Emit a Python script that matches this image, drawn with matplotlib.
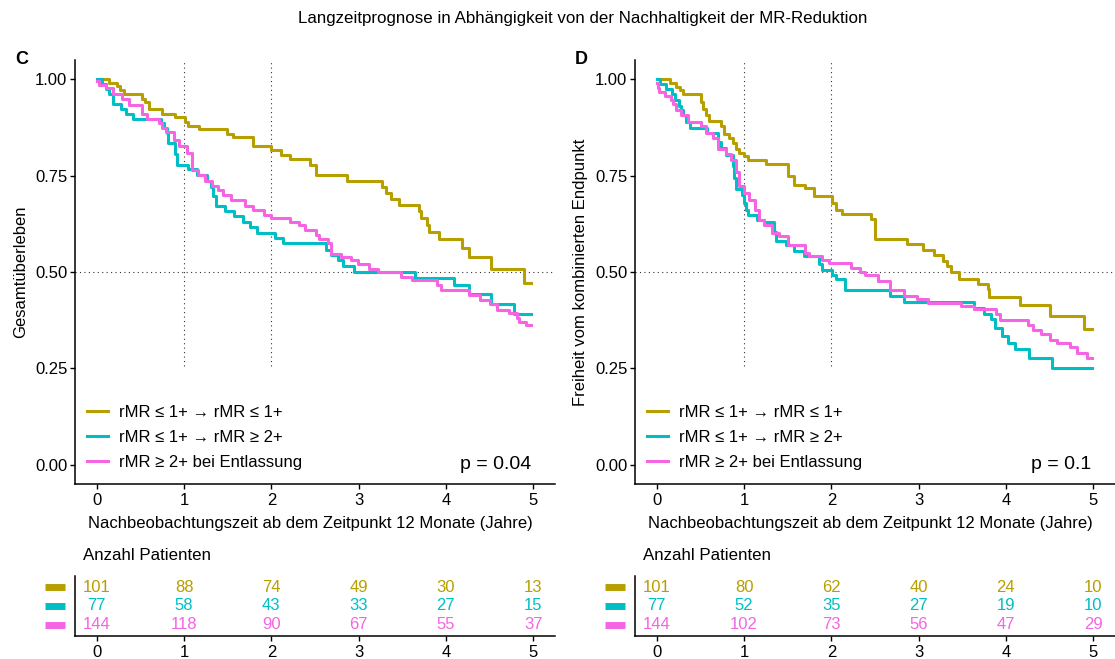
import matplotlib
matplotlib.use("Agg")
import matplotlib.pyplot as plt
import matplotlib.transforms as mtransforms

plt.rcParams['font.family'] = ['Liberation Sans', 'DejaVu Sans']

# =========================
# DATA
# =========================
GROUPS = ["rMR ≤ 1+ → rMR ≤ 1+", "rMR ≤ 1+ → rMR ≥ 2+", "rMR ≥ 2+ bei Entlassung"]
COLORS = ["#B79F00", "#00BFC4", "#F564E3"]
TABLE_TIMES = [0, 1, 2, 3, 4, 5]

# panel C - Gesamtüberleben (step curves: time in years, survival)
c_gold_t = [0, 0.14, 0.235, 0.26, 0.31, 0.52, 0.55, 0.6, 0.75, 0.90, 1.01, 1.05, 1.17, 1.49, 1.56, 1.79,
            2.0, 2.11, 2.21, 2.44, 2.51, 2.87, 3.27, 3.31, 3.37, 3.46, 3.69, 3.72, 3.78, 3.81, 3.92, 4.18,
            4.26, 4.52, 4.89, 4.98]
c_gold_s = [1.0, 0.99, 0.982, 0.972, 0.963, 0.95, 0.941, 0.922, 0.911, 0.901, 0.89, 0.879, 0.870, 0.858, 0.849, 0.827,
            0.817, 0.804, 0.793, 0.778, 0.752, 0.736, 0.72, 0.706, 0.689, 0.674, 0.657, 0.640, 0.622, 0.605, 0.586, 0.563,
            0.539, 0.509, 0.472, 0.472]
c_cyan_t = [0, 0.06, 0.1, 0.14, 0.18, 0.19, 0.28, 0.33, 0.41, 0.74, 0.77, 0.80, 0.82, 0.90, 0.92, 1.05, 1.15,
            1.26, 1.31, 1.33, 1.36, 1.47, 1.57, 1.67, 1.76, 1.84, 2.04, 2.13, 2.63, 2.68, 2.76, 2.82, 2.95,
            3.65, 4.09, 4.27, 4.52, 4.78, 4.98]
c_cyan_s = [1.0, 0.987, 0.975, 0.963, 0.950, 0.937, 0.924, 0.911, 0.898, 0.887, 0.873, 0.86, 0.834, 0.806, 0.778, 0.767, 0.752,
            0.735, 0.72, 0.696, 0.670, 0.657, 0.644, 0.629, 0.616, 0.601, 0.588, 0.575, 0.558, 0.543, 0.530, 0.515, 0.50,
            0.485, 0.465, 0.442, 0.416, 0.390, 0.390]
c_mag_t = [0, 0.03, 0.1, 0.18, 0.29, 0.37, 0.52, 0.58, 0.71, 0.75, 0.79, 0.88, 0.94, 1.03, 1.09, 1.16, 1.24,
           1.32, 1.39, 1.45, 1.54, 1.70, 1.79, 1.91, 2.0, 2.21, 2.32, 2.38, 2.51, 2.55, 2.65, 2.68, 2.80,
           2.91, 2.99, 3.12, 3.22, 3.48, 3.61, 3.90, 3.94, 4.26, 4.39, 4.51, 4.58, 4.72, 4.81, 4.84, 4.92, 4.98]
c_mag_s = [0.995, 0.985, 0.977, 0.963, 0.95, 0.933, 0.91, 0.898, 0.887, 0.873, 0.864, 0.842, 0.827, 0.809, 0.765, 0.752, 0.737,
           0.722, 0.712, 0.700, 0.687, 0.672, 0.661, 0.649, 0.640, 0.631, 0.623, 0.61, 0.597, 0.586, 0.574, 0.547, 0.538,
           0.531, 0.522, 0.509, 0.50, 0.488, 0.478, 0.465, 0.453, 0.44, 0.427, 0.416, 0.401, 0.393, 0.38, 0.370, 0.362, 0.362]

# panel D - Freiheit vom kombinierten Endpunkt
d_gold_t = [0, 0.15, 0.224, 0.262, 0.30, 0.51, 0.53, 0.566, 0.60, 0.74, 0.774, 0.83, 0.87, 0.907, 0.945, 1.0,
            1.04, 1.25, 1.50, 1.57, 1.70, 1.80, 2.01, 2.05, 2.12, 2.45, 2.50, 2.87, 3.05, 3.18, 3.28, 3.32,
            3.37, 3.46, 3.68, 3.79, 3.81, 4.16, 4.51, 4.89, 4.99]
d_gold_s = [1.0, 0.99, 0.98, 0.972, 0.961, 0.941, 0.922, 0.907, 0.891, 0.88, 0.858, 0.848, 0.834, 0.82, 0.81, 0.80,
            0.791, 0.78, 0.748, 0.726, 0.718, 0.696, 0.68, 0.661, 0.650, 0.637, 0.586, 0.573, 0.558, 0.543, 0.528, 0.515,
            0.50, 0.483, 0.468, 0.455, 0.436, 0.415, 0.386, 0.351, 0.351]
d_cyan_t = [0, 0.04, 0.11, 0.17, 0.205, 0.255, 0.28, 0.30, 0.34, 0.375, 0.57, 0.70, 0.74, 0.79, 0.87, 0.89,
            0.907, 0.98, 1.0, 1.02, 1.04, 1.15, 1.23, 1.34, 1.36, 1.48, 1.57, 1.69, 1.86, 1.89, 2.01, 2.05,
            2.16, 2.67, 2.83, 3.64, 3.75, 3.83, 3.87, 3.96, 4.02, 4.10, 4.27, 4.53, 4.99]
d_cyan_s = [1.0, 0.987, 0.976, 0.963, 0.947, 0.93, 0.92, 0.907, 0.89, 0.873, 0.86, 0.838, 0.821, 0.804, 0.774, 0.745,
            0.715, 0.70, 0.68, 0.66, 0.649, 0.636, 0.631, 0.605, 0.580, 0.571, 0.554, 0.541, 0.52, 0.505, 0.491, 0.481,
            0.453, 0.437, 0.423, 0.407, 0.39, 0.378, 0.354, 0.334, 0.317, 0.30, 0.276, 0.25, 0.25]
d_mag_t = [0, 0.01, 0.02, 0.09, 0.167, 0.186, 0.224, 0.28, 0.357, 0.51, 0.566, 0.64, 0.70, 0.79, 0.85, 0.907,
           0.945, 1.0, 1.06, 1.12, 1.17, 1.23, 1.32, 1.40, 1.50, 1.70, 1.74, 1.89, 1.97, 2.22, 2.33, 2.39,
           2.54, 2.67, 2.83, 2.98, 3.11, 3.49, 3.64, 3.89, 3.93, 4.25, 4.31, 4.40, 4.50, 4.59, 4.74, 4.82, 4.93, 4.99]
d_mag_s = [0.99, 0.978, 0.966, 0.957, 0.947, 0.937, 0.92, 0.907, 0.89, 0.88, 0.86, 0.847, 0.818, 0.805, 0.791, 0.76,
           0.722, 0.705, 0.687, 0.66, 0.636, 0.623, 0.601, 0.593, 0.571, 0.55, 0.541, 0.532, 0.524, 0.511, 0.50, 0.491,
           0.476, 0.453, 0.437, 0.429, 0.42, 0.412, 0.405, 0.39, 0.375, 0.362, 0.349, 0.338, 0.324, 0.315, 0.305, 0.289, 0.278, 0.278]

# number at risk
c_risk = [[101, 88, 74, 49, 30, 13],
          [77, 58, 43, 33, 27, 15],
          [144, 118, 90, 67, 55, 37]]
d_risk = [[101, 80, 62, 40, 24, 10],
          [77, 52, 35, 27, 19, 10],
          [144, 102, 73, 56, 47, 29]]

# =========================
# PLOT
# =========================
W, H = 1115, 659
fig = plt.figure(figsize=(W / 100, H / 100), dpi=100)

fig.text(582.5 / W, 1 - 18 / H, "Langzeitprognose in Abhängigkeit von der Nachhaltigkeit der MR-Reduktion",
         ha="center", va="center", fontsize=12.2)


def px_axes(left, top, right, bottom):
    return fig.add_axes([left / W, 1 - bottom / H, (right - left) / W, (bottom - top) / H])


def style_axes(ax):
    for s in ["top", "right"]:
        ax.spines[s].set_visible(False)
    for s in ["left", "bottom"]:
        ax.spines[s].set_linewidth(1.1)
    ax.tick_params(direction="out", length=3.5, width=1.0, pad=2, labelsize=12, colors="black")
    ax.tick_params(axis="x", pad=3)


def draw_panel(x0, letter, ylabel, curves, risk, pval):
    ax = px_axes(x0, 60, x0 + 480, 484)
    style_axes(ax)
    ax.set_xlim(-0.25, 5.25)
    ax.set_ylim(-0.05, 1.05)
    # reference lines
    ax.axhline(0.5, color="#333333", lw=0.8, ls=(0, (1, 3)))
    for v in [1, 2]:
        ax.plot([v, v], [0.255, 1.05], color="#333333", lw=0.8, ls=(0, (1, 3)))
    for (t, s), col, lab in zip(curves, COLORS, GROUPS):
        ax.plot(t, s, drawstyle="steps-post", color=col, lw=2.2, label=lab)
    ax.set_xticks(TABLE_TIMES)
    ax.set_yticks([0, 0.25, 0.5, 0.75, 1.0])
    ax.set_yticklabels(["0.00", "0.25", "0.50", "0.75", "1.00"])
    ax.set_xlabel("Nachbeobachtungszeit ab dem Zeitpunkt 12 Monate (Jahre)", fontsize=12, labelpad=6)
    ax.xaxis.set_label_coords(0.49, -0.075)
    ax.set_ylabel(ylabel, fontsize=12, labelpad=5)
    ax.legend(loc="lower left", bbox_to_anchor=(0.0, 0.005), frameon=False, fontsize=12,
              handlelength=1.25, handletextpad=0.7, labelspacing=0.6, borderaxespad=0.3)
    ax.text(4.98, 0.0, pval, ha="right", va="center", fontsize=14)
    fig.text((x0 - 60) / W, 1 - 60 / H, letter, fontsize=13, fontweight="bold", ha="left", va="center")

    # risk table
    fig.text((x0 + 8) / W, 1 - 556 / H, "Anzahl Patienten", fontsize=12.2, ha="left", va="center")
    tb = px_axes(x0, 576, x0 + 480, 636)
    style_axes(tb)
    tb.set_xlim(-0.25, 5.25)
    tb.set_ylim(3.6, 0.4)
    tb.set_xticks(TABLE_TIMES)
    tb.set_yticks([1, 2, 3])
    tb.set_yticklabels([])
    tb.tick_params(axis="y", length=0)
    trans = mtransforms.blended_transform_factory(tb.transAxes, tb.transData)
    for i, (row, col) in enumerate(zip(risk, COLORS)):
        for t, n in zip(TABLE_TIMES, row):
            tb.text(t, i + 1, str(n), color=col, ha="center", va="center", fontsize=12)
        tb.plot([-0.0625, -0.021], [i + 1, i + 1], color=col, lw=5, transform=trans, clip_on=False,
                solid_capstyle="butt")


draw_panel(75, "C", "Gesamtüberleben",
           [(c_gold_t, c_gold_s), (c_cyan_t, c_cyan_s), (c_mag_t, c_mag_s)], c_risk, "p = 0.04")
draw_panel(635, "D", "Freiheit vom kombinierten Endpunkt",
           [(d_gold_t, d_gold_s), (d_cyan_t, d_cyan_s), (d_mag_t, d_mag_s)], d_risk, "p = 0.1")

fig.savefig("out.png", dpi=100)
